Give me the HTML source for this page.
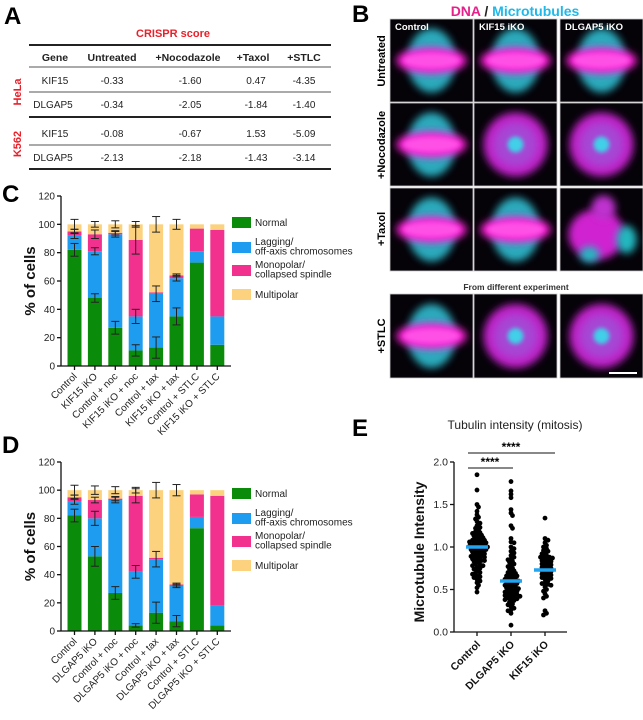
<!DOCTYPE html>
<html><head><meta charset="utf-8"><style>
body{margin:0;background:#fff;}
svg{display:block;font-family:"Liberation Sans",Arial,sans-serif;}
</style></head><body>
<svg id="fig" width="643" height="720" viewBox="0 0 643 720" xmlns="http://www.w3.org/2000/svg">
<defs>
<filter id="bl" x="-50%" y="-50%" width="200%" height="200%"><feGaussianBlur stdDeviation="4"/></filter>
<filter id="bl2" x="-50%" y="-50%" width="200%" height="200%"><feGaussianBlur stdDeviation="2"/></filter>
</defs>
<!-- Panel A -->
<g>
<text x="4" y="24" font-size="24" font-weight="bold">A</text>
<text x="173" y="37" font-size="11" font-weight="bold" fill="#e8202a" text-anchor="middle">CRISPR score</text>
<line x1="29" y1="45" x2="331" y2="45" stroke="#222" stroke-width="2"/>
<line x1="29" y1="67" x2="331" y2="67" stroke="#555" stroke-width="1"/>
<line x1="29" y1="92" x2="331" y2="92" stroke="#555" stroke-width="1"/>
<line x1="29" y1="117" x2="331" y2="117" stroke="#222" stroke-width="2"/>
<line x1="29" y1="145" x2="331" y2="145" stroke="#555" stroke-width="1"/>
<line x1="29" y1="169" x2="331" y2="169" stroke="#222" stroke-width="2"/>
<g font-size="10.5" font-weight="bold" text-anchor="middle" fill="#222">
<text x="55" y="61">Gene</text><text x="112" y="61">Untreated</text><text x="188" y="61">+Nocodazole</text><text x="253" y="61">+Taxol</text><text x="304" y="61">+STLC</text>
</g>
<g font-size="10" text-anchor="middle" fill="#222">
<text x="55" y="84">KIF15</text><text x="112" y="84">-0.33</text><text x="190" y="84">-1.60</text><text x="256" y="84">0.47</text><text x="304" y="84">-4.35</text>
<text x="53" y="108">DLGAP5</text><text x="112" y="108">-0.34</text><text x="190" y="108">-2.05</text><text x="256" y="108">-1.84</text><text x="304" y="108">-1.40</text>
<text x="55" y="137">KIF15</text><text x="112" y="137">-0.08</text><text x="190" y="137">-0.67</text><text x="256" y="137">1.53</text><text x="304" y="137">-5.09</text>
<text x="53" y="161">DLGAP5</text><text x="112" y="161">-2.13</text><text x="190" y="161">-2.18</text><text x="256" y="161">-1.43</text><text x="304" y="161">-3.14</text>
</g>
<text transform="translate(21,92) rotate(-90)" font-size="11" font-weight="bold" fill="#e8202a" text-anchor="middle">HeLa</text>
<text transform="translate(21,144) rotate(-90)" font-size="11" font-weight="bold" fill="#e8202a" text-anchor="middle">K562</text>
</g>
<!-- Panel B -->
<g id="panelB">
<text x="352" y="22" font-size="24" font-weight="bold">B</text>
<text x="515" y="16" font-size="14" font-weight="bold" text-anchor="middle"><tspan fill="#e8208c">DNA</tspan><tspan fill="#222"> / </tspan><tspan fill="#1fb8e8">Microtubules</tspan></text>
<text x="516" y="290" font-size="8.5" font-weight="bold" text-anchor="middle" fill="#333">From different experiment</text>
<text transform="translate(385,61) rotate(-90)" font-size="11" font-weight="bold" text-anchor="middle">Untreated</text>
<text transform="translate(385,145) rotate(-90)" font-size="11" font-weight="bold" text-anchor="middle">+Nocodazole</text>
<text transform="translate(385,229) rotate(-90)" font-size="11" font-weight="bold" text-anchor="middle">+Taxol</text>
<text transform="translate(385,336) rotate(-90)" font-size="11" font-weight="bold" text-anchor="middle">+STLC</text>
</g>
<!-- Panel C -->
<g id="chartC">
<text x="2" y="202" font-size="24" font-weight="bold">C</text>
</g>
<g id="chartD">
<text x="2" y="453" font-size="24" font-weight="bold">D</text>
</g>
<g id="chartE">
<text x="352" y="436" font-size="24" font-weight="bold">E</text>
</g>
</svg>
<script>
// ---- Panel C/D data ----
const categoriesC = ["Control","KIF15 iKO","Control + noc","KIF15 iKO + noc","Control + tax","KIF15 iKO + tax","Control + STLC","KIF15 iKO + STLC"];
const normalC = [82,48,27,11,13,35,73,15];
const laggingC = [10,33,66,24,38,27,8,20];
const monopolarC = [3,12,1,54,1,2,16,61];
const multipolarC = [5,7,6,11,48,36,3,4];
const errNormalC = [4.5,3,4.5,4,7.5,6,0,0];
const errLaggingC = [2,2.5,2,5,5.5,2,0,0];
const errMonoC = [1.5,3,1.5,10,0,1,0,0];
const errMultiC = [3.5,2,2.5,2,5.5,3.5,0,0];

const categoriesD = ["Control","DLGAP5 iKO","Control + noc","DLGAP5 iKO + noc","Control + tax","DLGAP5 iKO + tax","Control + STLC","DLGAP5 iKO + STLC"];
const normalD = [82,53,27,4,13,7,73,4];
const laggingD = [10,27,66,38,38,25,8,14];
const monopolarD = [3,13,1,54,1,1,16,78];
const multipolarD = [5,7,6,4,48,67,3,4];
const errNormalD = [4.5,7,4.5,1.2,7.5,4,0,0];
const errLaggingD = [2,5,2,4.5,5.5,1.2,0,0];
const errMonoD = [1.5,2,1.5,5,0,1,0,0];
const errMultiD = [3.5,3,2.5,2,5.5,4,0,0];

const yTicksBar = [0,20,40,60,80,100,120];
const legendLabels = [["Normal"],["Lagging/","off-axis chromosomes"],["Monopolar/","collapsed spindle"],["Multipolar"]];
const segColors = ["#0a8c0a","#1e9cf0","#f2308e","#fcd27e"];

// ---- Panel E data ----
const groupsE = ["Control","DLGAP5 iKO","KIF15 iKO"];
const mediansE = [1.0,0.6,0.73];
const yTicksE = [0.0,0.5,1.0,1.5,2.0];
const controlVals = [1.85,1.67,1.5,1.47,1.42,1.38,1.35,1.33,1.3,1.28,1.25,1.23,1.22,1.2,1.18,1.17,1.15,1.14,1.12,1.11,1.1,1.09,1.08,1.07,1.06,1.05,1.05,1.04,1.03,1.02,1.02,1.01,1.0,1.0,0.99,0.99,0.98,0.97,0.97,0.96,0.95,0.94,0.93,0.92,0.91,0.9,0.89,0.88,0.87,0.86,0.85,0.84,0.83,0.82,0.8,0.79,0.78,0.76,0.75,0.74,0.72,0.7,0.69,0.68,0.66,0.65,0.64,0.62,0.6,0.58,0.55,0.52,0.47,1.13,1.06,1.01,0.96,0.93,0.9,1.16,1.08,0.88,0.84,0.78];
const dlgap5Vals = [1.77,1.66,1.62,1.58,1.44,1.4,1.37,1.25,1.22,1.1,1.06,1.05,1.0,0.98,0.95,0.93,0.9,0.88,0.86,0.85,0.83,0.82,0.8,0.78,0.77,0.75,0.74,0.72,0.71,0.7,0.69,0.68,0.67,0.66,0.65,0.64,0.63,0.62,0.61,0.6,0.6,0.59,0.58,0.57,0.56,0.55,0.54,0.53,0.52,0.51,0.5,0.49,0.48,0.47,0.46,0.45,0.44,0.43,0.42,0.41,0.4,0.39,0.38,0.37,0.35,0.33,0.32,0.3,0.28,0.26,0.25,0.22,0.08,0.57,0.53,0.49,0.45,0.62,0.66,0.42,0.38];
const kif15Vals = [1.34,1.1,1.08,1.05,1.02,1.0,0.98,0.96,0.95,0.93,0.92,0.9,0.89,0.88,0.87,0.86,0.85,0.84,0.82,0.81,0.8,0.79,0.78,0.77,0.76,0.75,0.74,0.73,0.72,0.7,0.69,0.68,0.67,0.66,0.65,0.63,0.62,0.6,0.58,0.56,0.55,0.53,0.5,0.48,0.45,0.42,0.4,0.25,0.22,0.2,0.88,0.83,0.71,0.64,0.57];

const NS = "http://www.w3.org/2000/svg";
function mk(parent, tag, attrs, text){
  const e = document.createElementNS(NS, tag);
  for (const k in attrs) e.setAttribute(k, attrs[k]);
  if (text !== undefined) e.textContent = text;
  parent.appendChild(e);
  return e;
}

function barChart(gid, cats, segs, errs, y0, y120, legendY){
  const g = document.getElementById(gid);
  const x0 = 61, pitch = 20.4, bw = 14, firstC = 74.5;
  const ys = v => y0 - (v/120)*(y0-y120);
  const xs = i => firstC + i*pitch;
  cats.forEach((c,i)=>{
    let cum = 0;
    segs.forEach((arr,s)=>{
      const v = arr[i];
      const r = mk(g,'rect',{x:xs(i)-bw/2,y:ys(cum+v),width:bw,height:ys(cum)-ys(cum+v),fill:segColors[s]});
      
      
      cum += v;
    });
  });
  cats.forEach((c,i)=>{
    let cum = 0;
    segs.forEach((arr,s)=>{
      cum += arr[i];
      const e = errs[s][i];
      if (e>0){
        const eg = mk(g,'g',{stroke:'#222','stroke-width':1});
        
        
        mk(eg,'line',{x1:xs(i),x2:xs(i),y1:ys(cum-e),y2:ys(cum+e)});
        mk(eg,'line',{x1:xs(i)-4,x2:xs(i)+4,y1:ys(cum-e),y2:ys(cum-e)});
        mk(eg,'line',{x1:xs(i)-4,x2:xs(i)+4,y1:ys(cum+e),y2:ys(cum+e)});
      }
    });
  });
  const ax = mk(g,'g',{stroke:'#111','stroke-width':1.3});
  
  
  mk(ax,'line',{x1:x0,x2:x0,y1:y120,y2:y0});
  mk(ax,'line',{x1:x0,x2:231,y1:y0,y2:y0});
  yTicksBar.forEach(t=>{
    mk(ax,'line',{x1:x0-4,x2:x0,y1:ys(t),y2:ys(t)});
    const tl = mk(g,'text',{x:x0-6,y:ys(t)+3.5,'font-size':10,'text-anchor':'end',fill:'#222'},String(t));
    
    
  });
  cats.forEach((c,i)=>{
    mk(ax,'line',{x1:xs(i),x2:xs(i),y1:y0,y2:y0+4});
    const tl = mk(g,'text',{transform:`translate(${xs(i)+3},${y0+11}) rotate(-45)`,'font-size':10,'text-anchor':'end',fill:'#222'},c);
    
    
  });
  const yl = mk(g,'text',{transform:`translate(35,${(y0+y120)/2}) rotate(-90)`,'font-size':15,'font-weight':'bold','text-anchor':'middle',fill:'#111'},'% of cells');
  
  
  const offs = [0,25,48,72];
  legendLabels.forEach((lab,k)=>{
    const ly = legendY + offs[k];
    const sw = mk(g,'rect',{x:232,y:ly-5,width:19,height:11,fill:segColors[k]});
    
    
    const t = mk(g,'text',{x:255,y:lab.length>1?ly-2:ly+4,'font-size':10,fill:'#222'});
    
    
    lab.forEach((line,j)=>{ mk(t,'tspan',{x:255,dy:j?9.5:0},line); });
  });
}
barChart('chartC', categoriesC, [normalC,laggingC,monopolarC,multipolarC], [errNormalC,errLaggingC,errMonoC,errMultiC], 366, 196, 222);
barChart('chartD', categoriesD, [normalD,laggingD,monopolarD,multipolarD], [errNormalD,errLaggingD,errMonoD,errMultiD], 631, 462, 493);

// ---- Panel E ----
(function(){
  const g = document.getElementById('chartE');
  const x0 = 454, y0 = 632, y2 = 462;
  const ys = v => y0 - (v/2)*(y0-y2);
  const xc = [477,511,545];
  const t = mk(g,'text',{x:515,y:429,'font-size':12,'text-anchor':'middle',fill:'#222'},'Tubulin intensity (mitosis)');
  
  
  const vals = [controlVals, dlgap5Vals, kif15Vals];
  const r = 2.4;
  vals.forEach((arr,gi)=>{
    const placed = [];
    const sorted = arr.slice().sort((a,b)=>b-a);
    sorted.forEach(v=>{
      const y = ys(v);
      let x = xc[gi];
      for (let k=0;k<30;k++){
        const off = (k%2?1:-1)*Math.ceil(k/2)*1.5;
        const cx = xc[gi]+off;
        if (Math.abs(off)>12){ x = xc[gi]+(k%2?1:-1)*12; break; }
        if (placed.every(p=>(p[0]-cx)**2+(p[1]-y)**2 >= (2*r*0.55)**2)){ x = cx; break; }
      }
      placed.push([x,y]);
      const c = mk(g,'circle',{cx:x,cy:y,r:r,fill:'#000'});
      
      
    });
  });
  mediansE.forEach((m,i)=>{
    const l = mk(g,'line',{x1:xc[i]-11,x2:xc[i]+11,y1:ys(m),y2:ys(m),stroke:'#22a4f0','stroke-width':3.5});
    
    
  });
  const ax = mk(g,'g',{stroke:'#111','stroke-width':1.3});
  
  
  mk(ax,'line',{x1:x0,x2:x0,y1:y2,y2:y0});
  mk(ax,'line',{x1:x0,x2:567,y1:y0,y2:y0});
  yTicksE.forEach(tv=>{
    mk(ax,'line',{x1:x0-4,x2:x0,y1:ys(tv),y2:ys(tv)});
    const tl = mk(g,'text',{x:x0-6,y:ys(tv)+3.5,'font-size':10.5,'text-anchor':'end',fill:'#222'},tv.toFixed(1));
    
    
  });
  groupsE.forEach((gname,i)=>{
    mk(ax,'line',{x1:xc[i],x2:xc[i],y1:y0,y2:y0+4});
    const tl = mk(g,'text',{transform:`translate(${xc[i]+4},${y0+13}) rotate(-45)`,'font-size':10.5,'font-weight':'bold','text-anchor':'end',fill:'#111'},gname);
    
    
  });
  const yl = mk(g,'text',{transform:`translate(424,${(y0+y2)/2+5}) rotate(-90)`,'font-size':14,'font-weight':'bold','text-anchor':'middle',fill:'#111'},'Microtubule Intensity');
  
  
  const s1 = mk(g,'line',{x1:468,x2:513,y1:468,y2:468,stroke:'#111','stroke-width':1});
  
  
  const s1t = mk(g,'text',{x:490,y:466,'font-size':12,'font-weight':'bold','text-anchor':'middle'},'****');
  
  
  const s2 = mk(g,'line',{x1:468,x2:555,y1:453,y2:453,stroke:'#111','stroke-width':1});
  
  
  const s2t = mk(g,'text',{x:511,y:451,'font-size':12,'font-weight':'bold','text-anchor':'middle'},'****');
  
  
})();

// ---- Panel B images ----
(function(){
  const g = document.getElementById('panelB');
  const cols = [[390,473],[474,557],[560,643]];
  const rows = [[19,102],[103,186],[188,271],[294,378]];
  const kinds = [["sp","sp","sp"],["sp","as","as"],["sp","sp","ir"],["sp","as","as"]];
  const colLabels = ["Control","KIF15 iKO","DLGAP5 iKO"];
  rows.forEach((rw,ri)=>{
    cols.forEach((cl,ci)=>{
      const x=cl[0], y=rw[0], w=cl[1]-cl[0], h=rw[1]-rw[0];
      const cell = mk(g,'g',{});
      
      
      mk(cell,'rect',{x:x,y:y,width:w,height:h,fill:'#050208',stroke:'#ccc','stroke-width':0.8});
      const cx=x+w/2, cy=y+h/2, k=kinds[ri][ci];
      if (k==="sp"){
        mk(cell,'ellipse',{cx:cx,cy:cy,rx:24,ry:32,fill:'#30c8dc',filter:'url(#bl)',opacity:0.85});
        mk(cell,'ellipse',{cx:cx,cy:cy,rx:35,ry:13,fill:'#ff20d8',filter:'url(#bl)'});
        mk(cell,'ellipse',{cx:cx,cy:cy,rx:28,ry:7,fill:'#ff70f0',filter:'url(#bl2)',opacity:0.6});
      } else if (k==="as"){
        mk(cell,'circle',{cx:cx,cy:cy,r:32,fill:'#c020c8',filter:'url(#bl)'});
        mk(cell,'circle',{cx:cx,cy:cy,r:22,fill:'#a050d8',filter:'url(#bl)',opacity:0.8});
        mk(cell,'circle',{cx:cx,cy:cy,r:8,fill:'#40d0e8',filter:'url(#bl2)'});
      } else {
        mk(cell,'ellipse',{cx:cx-5,cy:cy+5,rx:28,ry:25,fill:'#d020d0',filter:'url(#bl)'});
        mk(cell,'ellipse',{cx:cx+2,cy:cy-22,rx:12,ry:12,fill:'#c030d0',filter:'url(#bl)'});
        mk(cell,'ellipse',{cx:cx+25,cy:cy+10,rx:10,ry:14,fill:'#20b8c0',filter:'url(#bl)'});
        mk(cell,'ellipse',{cx:cx-12,cy:cy+25,rx:10,ry:8,fill:'#20b8c0',filter:'url(#bl)'});
      }
      if (ri===0){
        const t = mk(cell,'text',{x:x+5,y:y+11,'font-size':9.5,'font-weight':'bold',fill:'#fff'},colLabels[ci]);
        
        
      }
    });
  });
  const sb = mk(g,'line',{x1:609,x2:637,y1:373,y2:373,stroke:'#fff','stroke-width':2});
  
  
})();
</script>
</body></html>
